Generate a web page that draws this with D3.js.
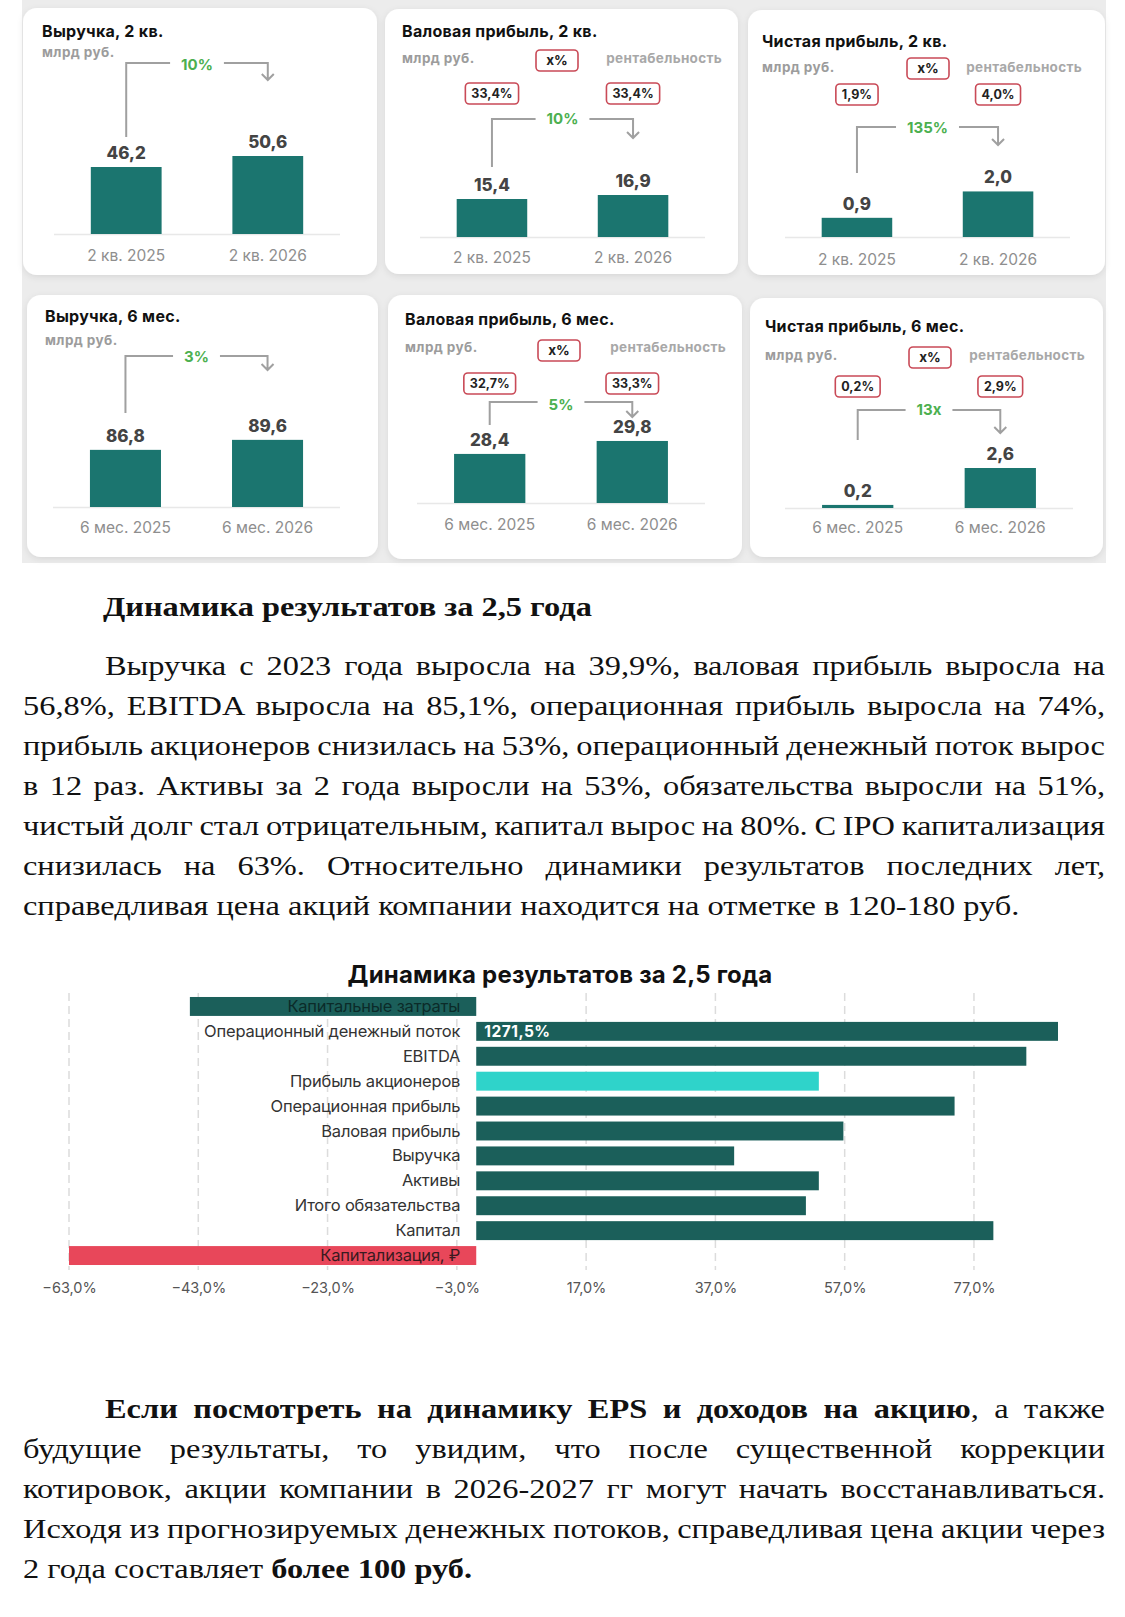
<!DOCTYPE html>
<html><head><meta charset="utf-8">
<script src="https://cdn.jsdelivr.net/npm/d3@7"></script>
<style>
html,body{margin:0;padding:0;background:#fff;}
body{width:1125px;height:1617px;overflow:hidden;}
svg{display:block;}
</style>
</head><body>
<script>
// ---------- DATA ----------
const cardTitles = ["Выручка, 2 кв.", "Валовая прибыль, 2 кв.", "Чистая прибыль, 2 кв.",
                    "Выручка, 6 мес.", "Валовая прибыль, 6 мес.", "Чистая прибыль, 6 мес."];
const cardPeriods = [["2 кв. 2025", "2 кв. 2026"], ["2 кв. 2025", "2 кв. 2026"], ["2 кв. 2025", "2 кв. 2026"],
                     ["6 мес. 2025", "6 мес. 2026"], ["6 мес. 2025", "6 мес. 2026"], ["6 мес. 2025", "6 мес. 2026"]];
const cardValues = [[46.2, 50.6], [15.4, 16.9], [0.9, 2.0], [86.8, 89.6], [28.4, 29.8], [0.2, 2.6]];
const cardGrowth = ["10%", "10%", "135%", "3%", "5%", "13x"];
const cardMargins = [null, [33.4, 33.4], [1.9, 4.0], null, [32.7, 33.3], [0.2, 2.9]];
const unitLabel = "млрд руб.";
const marginLabel = "рентабельность";
const marginKey = "x%";

const dynTitle = "Динамика результатов за 2,5 года";
const dynCategories = ["Капитальные затраты", "Операционный денежный поток", "EBITDA", "Прибыль акционеров",
  "Операционная прибыль", "Валовая прибыль", "Выручка", "Активы", "Итого обязательства", "Капитал", "Капитализация, ₽"];
const dynValues = [-44.3, 1271.5, 85.1, 53, 74, 56.8, 39.9, 53, 51, 80, -63];
const dynTicks = [-63, -43, -23, -3, 17, 37, 57, 77];
const dynLabeled = ["Операционный денежный поток"];

const heading = "Динамика результатов за 2,5 года";
const para1 = [
  [["Выручка с 2023 года выросла на 39,9%, валовая прибыль выросла на", 0]],
  [["56,8%, EBITDA выросла на 85,1%, операционная прибыль выросла на 74%,", 0]],
  [["прибыль акционеров снизилась на 53%, операционный денежный поток вырос", 0]],
  [["в 12 раз. Активы за 2 года выросли на 53%, обязательства выросли на 51%,", 0]],
  [["чистый долг стал отрицательным, капитал вырос на 80%. С IPO капитализация", 0]],
  [["снизилась на 63%. Относительно динамики результатов последних лет,", 0]],
  [["справедливая цена акций компании находится на отметке в 120-180 руб.", 0]]
];
const para2 = [
  [["Если посмотреть на динамику EPS и доходов на акцию", 1], [", а также", 0]],
  [["будущие результаты, то увидим, что после существенной коррекции", 0]],
  [["котировок, акции компании в 2026-2027 гг могут начать восстанавливаться.", 0]],
  [["Исходя из прогнозируемых денежных потоков, справедливая цена акции через", 0]],
  [["2 года составляет ", 0], ["более 100 руб.", 1]]
];

// ---------- LAYOUT ----------
const cardLayout = [
  {x:23, y:8,  w:354, h:267, tx:42,  ty:37,  uy:57,  base:234, ax0:54,  ax1:340,  xly:261, lt:63,  lb:137, ab:80,  gy:70},
  {x:385,y:9,  w:353, h:265, tx:402, ty:37,  uy:63,  base:237, ax0:420, ax1:705,  xly:263, lt:119, lb:167, ab:138, gy:124, kx:536, ky:50, rr:722,  my:83},
  {x:748,y:10, w:357, h:265, tx:762, ty:47,  uy:72,  base:237, ax0:785, ax1:1070, xly:265, lt:127, lb:173, ab:145, gy:133, kx:907, ky:58, rr:1082, my:84},
  {x:27, y:295,w:351, h:262, tx:45,  ty:322, uy:345, base:507, ax0:53,  ax1:340,  xly:533, lt:356, lb:413, ab:370, gy:362},
  {x:388,y:295,w:354, h:264, tx:405, ty:325, uy:352, base:503, ax0:417, ax1:705,  xly:530, lt:402, lb:425, ab:417, gy:410, kx:538, ky:340, rr:726, my:373},
  {x:750,y:298,w:353, h:259, tx:765, ty:332, uy:360, base:508, ax0:785, ax1:1073, xly:533, lt:410, lb:440, ab:433, gy:415, kx:909, ky:347, rr:1085, my:376}
];
const cardDomains = [[19.4, 59.4], [1.15, 38.65], [0.1, 4.27], [70.8, 98.8], [23.1, 33.9], [0, 6.5]];

const SANS = "Inter, 'Open Sans', sans-serif";
const SERIF = "'Liberation Serif', 'Times New Roman', serif";
const TEAL = "#1b756f";
const SERIF_SX = 1.157;
const fmt1 = v => d3.format(".1f")(v).replace(".", ",");

const svg = d3.select("body").append("svg").attr("width", 1125).attr("height", 1617);
const defs = svg.append("defs");
const flt = defs.append("filter").attr("id", "sh").attr("x", "-5%").attr("y", "-5%").attr("width", "110%").attr("height", "115%");
flt.append("feDropShadow").attr("dx", 0).attr("dy", 2).attr("stdDeviation", 3).attr("flood-color", "#000").attr("flood-opacity", 0.09);

// backdrop
svg.append("rect").attr("x", 22).attr("y", 0).attr("width", 1084).attr("height", 563).attr("fill", "#ececec");

cardLayout.forEach((L, i) => {
  const g = svg.append("g");
  g.append("rect").attr("x", L.x).attr("y", L.y).attr("width", L.w).attr("height", L.h)
    .attr("rx", 14).attr("fill", "#fff").attr("filter", "url(#sh)");
  g.append("text").attr("x", L.tx).attr("y", L.ty).text(cardTitles[i])
    .attr("font-family", SANS).attr("font-size", 16).attr("letter-spacing", 0.3).attr("font-weight", 700).attr("fill", "#111");
  g.append("text").attr("x", L.tx).attr("y", L.uy).text(unitLabel)
    .attr("font-family", SANS).attr("font-size", 13.5).attr("letter-spacing", 0.4).attr("font-weight", 700).attr("fill", "#9c9c9c");

  const xb = d3.scaleBand().domain(cardPeriods[i]).range([L.ax0, L.ax1]).paddingInner(0.5).paddingOuter(0.26);
  const yb = d3.scaleLinear().domain(cardDomains[i]).range([L.base, L.base - 100]);
  const rows = cardPeriods[i].map((p, j) => ({p, v: cardValues[i][j], m: cardMargins[i] ? cardMargins[i][j] : null}));
  const bw = xb.bandwidth();

  g.append("line").attr("x1", L.ax0).attr("x2", L.ax1).attr("y1", L.base + 0.5).attr("y2", L.base + 0.5)
    .attr("stroke", "#e8e8e8").attr("stroke-width", 1.5);
  g.selectAll("rect.bar").data(rows).join("rect").attr("class", "bar")
    .attr("x", d => xb(d.p)).attr("y", d => yb(d.v)).attr("width", bw)
    .attr("height", d => L.base - yb(d.v)).attr("fill", TEAL);
  g.selectAll("text.val").data(rows).join("text").attr("class", "val")
    .attr("x", d => xb(d.p) + bw / 2).attr("y", d => yb(d.v) - 8).attr("text-anchor", "middle")
    .text(d => fmt1(d.v))
    .attr("font-family", SANS).attr("font-size", 17).attr("font-weight", 800).attr("fill", "#444");
  g.selectAll("text.per").data(rows).join("text").attr("class", "per")
    .attr("x", d => xb(d.p) + bw / 2).attr("y", L.xly).attr("text-anchor", "middle")
    .text(d => d.p)
    .attr("font-family", SANS).attr("font-size", 15.5).attr("fill", "#8e8e8e");

  // growth connector
  const c1 = xb(rows[0].p) + bw / 2, c2 = xb(rows[1].p) + bw / 2, mid = (c1 + c2) / 2;
  const gt = g.append("text").attr("x", mid).attr("y", L.gy).attr("text-anchor", "middle").text(cardGrowth[i])
    .attr("font-family", SANS).attr("font-size", 15).attr("font-weight", 700).attr("fill", "#4cb050");
  const tw = gt.node().getComputedTextLength();
  const gap = tw / 2 + 11;
  const p = d3.path();
  p.moveTo(c1, L.lb); p.lineTo(c1, L.lt); p.lineTo(mid - gap, L.lt);
  p.moveTo(mid + gap, L.lt); p.lineTo(c2, L.lt); p.lineTo(c2, L.ab);
  p.moveTo(c2 - 6, L.ab - 6); p.lineTo(c2, L.ab); p.lineTo(c2 + 6, L.ab - 6);
  g.append("path").attr("d", p.toString()).attr("fill", "none").attr("stroke", "#a0a0a0").attr("stroke-width", 2);

  if (cardMargins[i]) {
    g.append("rect").attr("x", L.kx).attr("y", L.ky).attr("width", 42).attr("height", 21).attr("rx", 4)
      .attr("fill", "#fff").attr("stroke", "#c94a57").attr("stroke-width", 1.6);
    g.append("text").attr("x", L.kx + 21).attr("y", L.ky + 15).attr("text-anchor", "middle").text(marginKey)
      .attr("font-family", SANS).attr("font-size", 13.5).attr("font-weight", 700).attr("fill", "#222");
    g.append("text").attr("x", L.rr).attr("y", L.uy).attr("text-anchor", "end").text(marginLabel)
      .attr("font-family", SANS).attr("font-size", 13.5).attr("letter-spacing", 0.3).attr("font-weight", 700).attr("fill", "#a8a8a8");
    rows.forEach(d => {
      const cx = xb(d.p) + bw / 2;
      const t = g.append("text").attr("x", cx).attr("y", L.my + 15).attr("text-anchor", "middle").text(fmt1(d.m) + "%")
        .attr("font-family", SANS).attr("font-size", 12.5).attr("font-weight", 700).attr("fill", "#222");
      const w = t.node().getComputedTextLength() + 12;
      g.insert("rect", () => t.node()).attr("x", cx - w / 2).attr("y", L.my).attr("width", w).attr("height", 21).attr("rx", 4)
        .attr("fill", "#fff").attr("stroke", "#c94a57").attr("stroke-width", 1.6);
    });
  }
});

// ---------- TEXT BLOCKS ----------
function textLine(segs, x, y, target, justify, bold) {
  const g = svg.append("g").attr("transform", `translate(${x},${y}) scale(${SERIF_SX},1)`);
  const t = g.append("text").attr("x", 0).attr("y", 0)
    .attr("font-family", SERIF).attr("font-size", 28).attr("fill", "#111");
  segs.forEach(s => t.append("tspan").text(s[0]).attr("font-weight", (s[1] || bold) ? 700 : 400));
  const full = segs.map(s => s[0]).join("");
  const spaces = (full.match(/ /g) || []).length;
  const len = t.node().getComputedTextLength();
  if (justify && spaces > 0) t.attr("word-spacing", (target / SERIF_SX - len) / spaces);
  return t;
}
textLine([[heading, 1]], 103, 616, 0, false, true);
para1.forEach((segs, k) => {
  const x = k === 0 ? 105 : 23;
  textLine(segs, x, 675 + 40 * k, 1105 - x, k < para1.length - 1);
});
para2.forEach((segs, k) => {
  const x = k === 0 ? 105 : 23;
  textLine(segs, x, 1418 + 40 * k, 1105 - x, k < para2.length - 1);
});

// ---------- DYNAMICS BAR CHART ----------
const cg = svg.append("g");
const x = d3.scaleLinear().domain([-63, 90]).range([69, 1058]).clamp(true);
const y = d3.scaleBand().domain(dynCategories).range([994, 1268]).paddingInner(0.24).paddingOuter(0.12);

cg.append("text").attr("x", 560).attr("y", 983).attr("text-anchor", "middle").text(dynTitle)
  .attr("font-family", SANS).attr("font-size", 24).attr("letter-spacing", 0.2).attr("font-weight", 700).attr("fill", "#111");

cg.selectAll("line.grid").data(dynTicks).join("line").attr("class", "grid")
  .attr("x1", d => x(d)).attr("x2", d => x(d)).attr("y1", 993).attr("y2", 1270)
  .attr("stroke", "#dcdcdc").attr("stroke-width", 1.5).attr("stroke-dasharray", "8,5");

const axis = d3.axisBottom(x).tickValues(dynTicks).tickSize(0).tickPadding(3)
  .tickFormat(d => fmt1(d) + "%");
const ag = cg.append("g").attr("transform", "translate(0,1280)").call(axis);
ag.select(".domain").remove();
ag.selectAll("text").attr("font-family", SANS).attr("font-size", 14.5).attr("fill", "#555");

const rows = dynCategories.map((c, i) => ({c, v: dynValues[i]}));
const colorOf = d => d.c === "Прибыль акционеров" ? "#2fd3ca" : (d.c === "Капитализация, ₽" ? "#e8475a" : "#1b5f5a");
cg.selectAll("rect.dbar").data(rows).join("rect").attr("class", "dbar")
  .attr("x", d => Math.min(x(0), x(d.v))).attr("y", d => y(d.c))
  .attr("width", d => Math.abs(x(d.v) - x(0))).attr("height", y.bandwidth())
  .attr("fill", colorOf);
cg.selectAll("text.dlab").data(rows).join("text").attr("class", "dlab")
  .attr("x", x(0) - 16).attr("y", d => y(d.c) + y.bandwidth() / 2 + 5.5).attr("text-anchor", "end")
  .text(d => d.c)
  .attr("font-family", SANS).attr("font-size", 16.5).attr("letter-spacing", -0.2)
  .attr("fill", d => d.v < 0 ? (d.c === "Капитализация, ₽" ? "#3a1a20" : "#0b2b29") : "#333");
cg.selectAll("text.dval").data(rows.filter(d => dynLabeled.includes(d.c))).join("text").attr("class", "dval")
  .attr("x", x(0) + 8).attr("y", d => y(d.c) + y.bandwidth() / 2 + 5.5)
  .text(d => fmt1(d.v) + "%")
  .attr("font-family", SANS).attr("font-size", 15.5).attr("letter-spacing", 0.5).attr("font-weight", 700).attr("fill", "#fff");
</script>
</body></html>
